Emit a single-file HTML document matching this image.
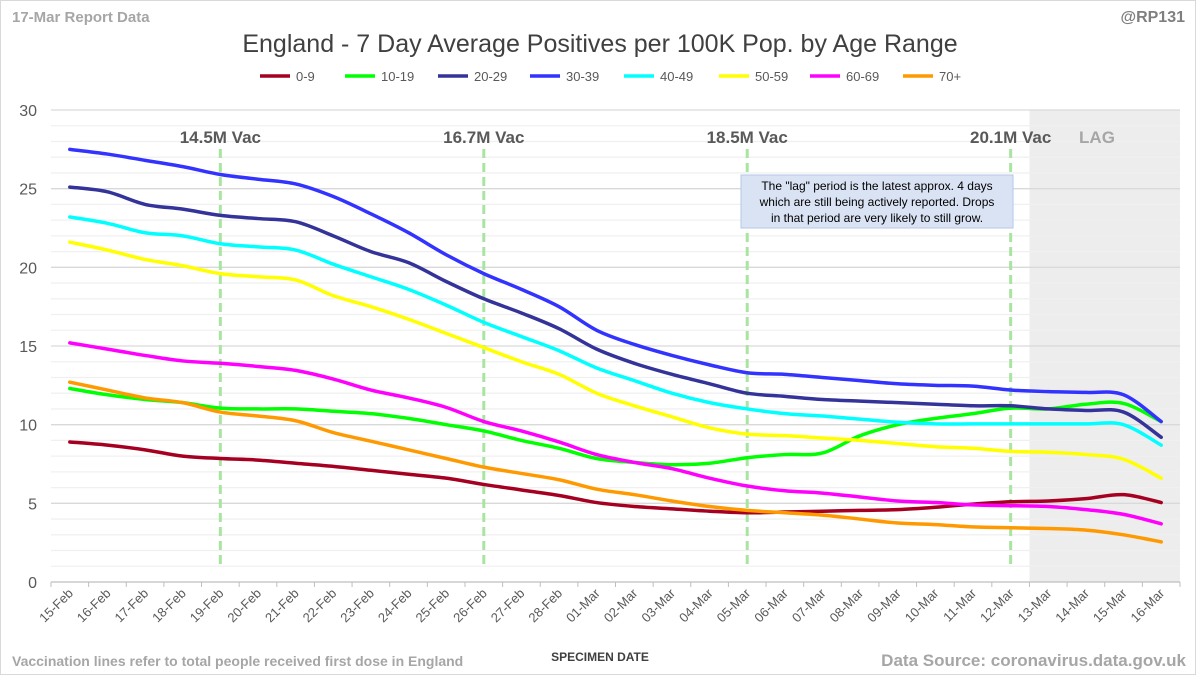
<!DOCTYPE html>
<html><head><meta charset="utf-8"><style>
body{margin:0;background:#fff;font-family:"Liberation Sans",sans-serif;}
svg text{font-family:"Liberation Sans",sans-serif;}
</style></head><body>
<svg id="c" width="1200" height="675" xmlns="http://www.w3.org/2000/svg">
<rect x="0.5" y="0.5" width="1195" height="674" fill="#fff" stroke="#d9d9d9"/>
<text x="12" y="22" font-size="15" font-weight="bold" fill="#a6a6a6">17-Mar Report Data</text>
<text x="1185" y="22" font-size="16" font-weight="bold" fill="#7f7f7f" text-anchor="end">@RP131</text>
<text x="600" y="52" font-size="25" fill="#404040" text-anchor="middle">England - 7 Day Average Positives per 100K Pop. by Age Range</text>
<g id="legend"></g>
<g id="plot"></g>
<text x="600" y="661" font-size="12" font-weight="bold" fill="#404040" text-anchor="middle">SPECIMEN DATE</text>
<text x="12" y="666" font-size="14" font-weight="bold" fill="#a6a6a6">Vaccination lines refer to total people received first dose in England</text>
<text x="1186" y="666" font-size="17" font-weight="bold" fill="#a6a6a6" text-anchor="end">Data Source: coronavirus.data.gov.uk</text>
</svg>
<script>
const categories=["15-Feb","16-Feb","17-Feb","18-Feb","19-Feb","20-Feb","21-Feb","22-Feb","23-Feb","24-Feb","25-Feb","26-Feb","27-Feb","28-Feb","01-Mar","02-Mar","03-Mar","04-Mar","05-Mar","06-Mar","07-Mar","08-Mar","09-Mar","10-Mar","11-Mar","12-Mar","13-Mar","14-Mar","15-Mar","16-Mar"];
const seriesNames=["0-9","10-19","20-29","30-39","40-49","50-59","60-69","70+"];
const seriesColors=["#a50021","#00ff00","#333399","#3333ff","#00ffff","#ffff00","#ff00ff","#ff9900"];
const s0=[8.9,8.7,8.4,8.0,7.85,7.75,7.55,7.35,7.1,6.85,6.6,6.2,5.85,5.5,5.05,4.8,4.65,4.5,4.4,4.45,4.5,4.55,4.6,4.75,4.95,5.1,5.15,5.3,5.55,5.05];
const s1=[12.3,11.9,11.6,11.4,11.05,11.0,11.0,10.85,10.7,10.4,10.0,9.6,9.0,8.5,7.85,7.6,7.45,7.55,7.9,8.1,8.2,9.3,10.0,10.4,10.7,11.05,11.0,11.3,11.35,10.2];
const s2=[25.1,24.8,24.0,23.7,23.3,23.1,22.9,22.0,21.0,20.3,19.1,18.0,17.1,16.1,14.8,13.9,13.2,12.6,12.0,11.8,11.6,11.5,11.4,11.3,11.2,11.2,11.0,10.9,10.8,9.2];
const s3=[27.5,27.2,26.8,26.4,25.9,25.6,25.3,24.5,23.4,22.2,20.8,19.6,18.6,17.5,16.0,15.1,14.4,13.8,13.3,13.2,13.0,12.8,12.6,12.5,12.45,12.2,12.1,12.05,11.9,10.2];
const s4=[23.2,22.8,22.2,22.0,21.5,21.3,21.1,20.2,19.4,18.6,17.6,16.5,15.6,14.7,13.6,12.8,12.0,11.4,11.0,10.7,10.55,10.35,10.15,10.05,10.05,10.05,10.05,10.05,10.0,8.7];
const s5=[21.6,21.1,20.5,20.1,19.6,19.4,19.2,18.2,17.5,16.7,15.8,14.9,14.0,13.2,12.0,11.2,10.5,9.8,9.4,9.3,9.15,9.0,8.8,8.6,8.5,8.3,8.25,8.1,7.8,6.6];
const s6=[15.2,14.8,14.4,14.05,13.9,13.7,13.45,12.9,12.2,11.7,11.1,10.2,9.6,8.9,8.1,7.6,7.2,6.6,6.1,5.8,5.65,5.4,5.15,5.05,4.9,4.85,4.8,4.6,4.3,3.7];
const s7=[12.7,12.2,11.7,11.4,10.8,10.55,10.25,9.5,8.95,8.4,7.85,7.3,6.9,6.5,5.9,5.55,5.15,4.8,4.55,4.4,4.25,4.0,3.75,3.65,3.5,3.45,3.4,3.3,3.0,2.55];
const seriesValues=[s0,s1,s2,s3,s4,s5,s6,s7];
const yTicks=[0,5,10,15,20,25,30];
const vacDates=["19-Feb","26-Feb","05-Mar","12-Mar"];
const vacLabels=["14.5M Vac","16.7M Vac","18.5M Vac","20.1M Vac"];
const lagStart="13-Mar";

const NS="http://www.w3.org/2000/svg";
const L=51,R=1180,T=110,B=582,yMax=30;
const bw=(R-L)/categories.length;
const xc=i=>L+bw*(i+0.5);
const xb=i=>L+bw*i;
const y=v=>B-(v/yMax)*(B-T);
function mk(tag,attrs,parent){const e=document.createElementNS(NS,tag);for(const k in attrs)e.setAttribute(k,attrs[k]);parent.appendChild(e);return e;}
const plot=document.getElementById('plot');
// lag shading
const li=categories.indexOf(lagStart);
const lag=mk('rect',{x:xb(li),y:T,width:R-xb(li),height:B-T,fill:'#ededed'},plot);


// minor gridlines
for(let v=1;v<yMax;v++){if(v%5===0)continue;const g=mk('line',{x1:L,x2:R,y1:y(v),y2:y(v),stroke:'#f0f0f0','stroke-width':1.3},plot);

}
yTicks.forEach(v=>{
 const g=mk('line',{x1:L,x2:R,y1:y(v),y2:y(v),stroke:v===0?'#bfbfbf':'#d9d9d9','stroke-width':1.3},plot);
 
 
 const t=mk('text',{x:37,y:y(v)+6,'font-size':16,fill:'#595959','text-anchor':'end'},plot);t.textContent=v;
 
 
});
for(let i=0;i<=categories.length;i++){const tk=mk('line',{x1:xb(i),x2:xb(i),y1:B,y2:B+5,stroke:'#bfbfbf'},plot);

}
categories.forEach((c,i)=>{
 const t=mk('text',{x:xc(i)+4,y:B+12,'font-size':13,fill:'#595959','text-anchor':'end',transform:`rotate(-45 ${xc(i)+4} ${B+12})`},plot);t.textContent=c;
 
 
});
// vaccination lines
vacDates.forEach((d,k)=>{
 const i=categories.indexOf(d);
 const ln=mk('line',{x1:xc(i),x2:xc(i),y1:149,y2:567,stroke:'#a9e5a0','stroke-width':3,'stroke-dasharray':'9,5'},plot);
 
 
 const t=mk('text',{x:xc(i),y:143,'font-size':17,'font-weight':'bold',fill:'#595959','text-anchor':'middle'},plot);t.textContent=vacLabels[k];
 
 
});
const lt=mk('text',{x:1097,y:143,'font-size':17,'font-weight':'bold',fill:'#a6a6a6','text-anchor':'middle'},plot);lt.textContent='LAG';


// series
function smooth(pts){let d=`M${pts[0][0]},${pts[0][1]}`;for(let i=0;i<pts.length-1;i++){const p0=pts[Math.max(0,i-1)],p1=pts[i],p2=pts[i+1],p3=pts[Math.min(pts.length-1,i+2)];const t=1/6;d+=` C${p1[0]+(p2[0]-p0[0])*t},${p1[1]+(p2[1]-p0[1])*t} ${p2[0]-(p3[0]-p1[0])*t},${p2[1]-(p3[1]-p1[1])*t} ${p2[0]},${p2[1]}`;}return d;}
seriesValues.forEach((vals,s)=>{
 const p=mk('path',{d:smooth(vals.map((v,i)=>[xc(i),y(v)])),fill:'none',stroke:seriesColors[s],'stroke-width':3.5,'stroke-linejoin':'round','stroke-linecap':'round'},plot);
 
 
});
// annotation
const ag=mk('g',{},plot);


mk('rect',{x:741,y:175,width:272,height:53,fill:'#dae3f3',stroke:'#b4c7e7'},ag);
["The \"lag\" period is the latest approx. 4 days","which are still being actively reported.  Drops","in that period are very likely to still grow."].forEach((s,i)=>{const t=mk('text',{x:877,y:190+i*16,'font-size':12,fill:'#000','text-anchor':'middle'},ag);t.textContent=s;});
// legend
const lg=document.getElementById('legend');
const lx=[260,345,438,530,624,719,810,903];
seriesNames.forEach((n,s)=>{
 const g=mk('g',{},lg);
 
 
 mk('line',{x1:lx[s],x2:lx[s]+30,y1:76,y2:76,stroke:seriesColors[s],'stroke-width':3.5},g);
 const t=mk('text',{x:lx[s]+36,y:81,'font-size':13,fill:'#595959'},g);t.textContent=n;
});
</script>
</body></html>
